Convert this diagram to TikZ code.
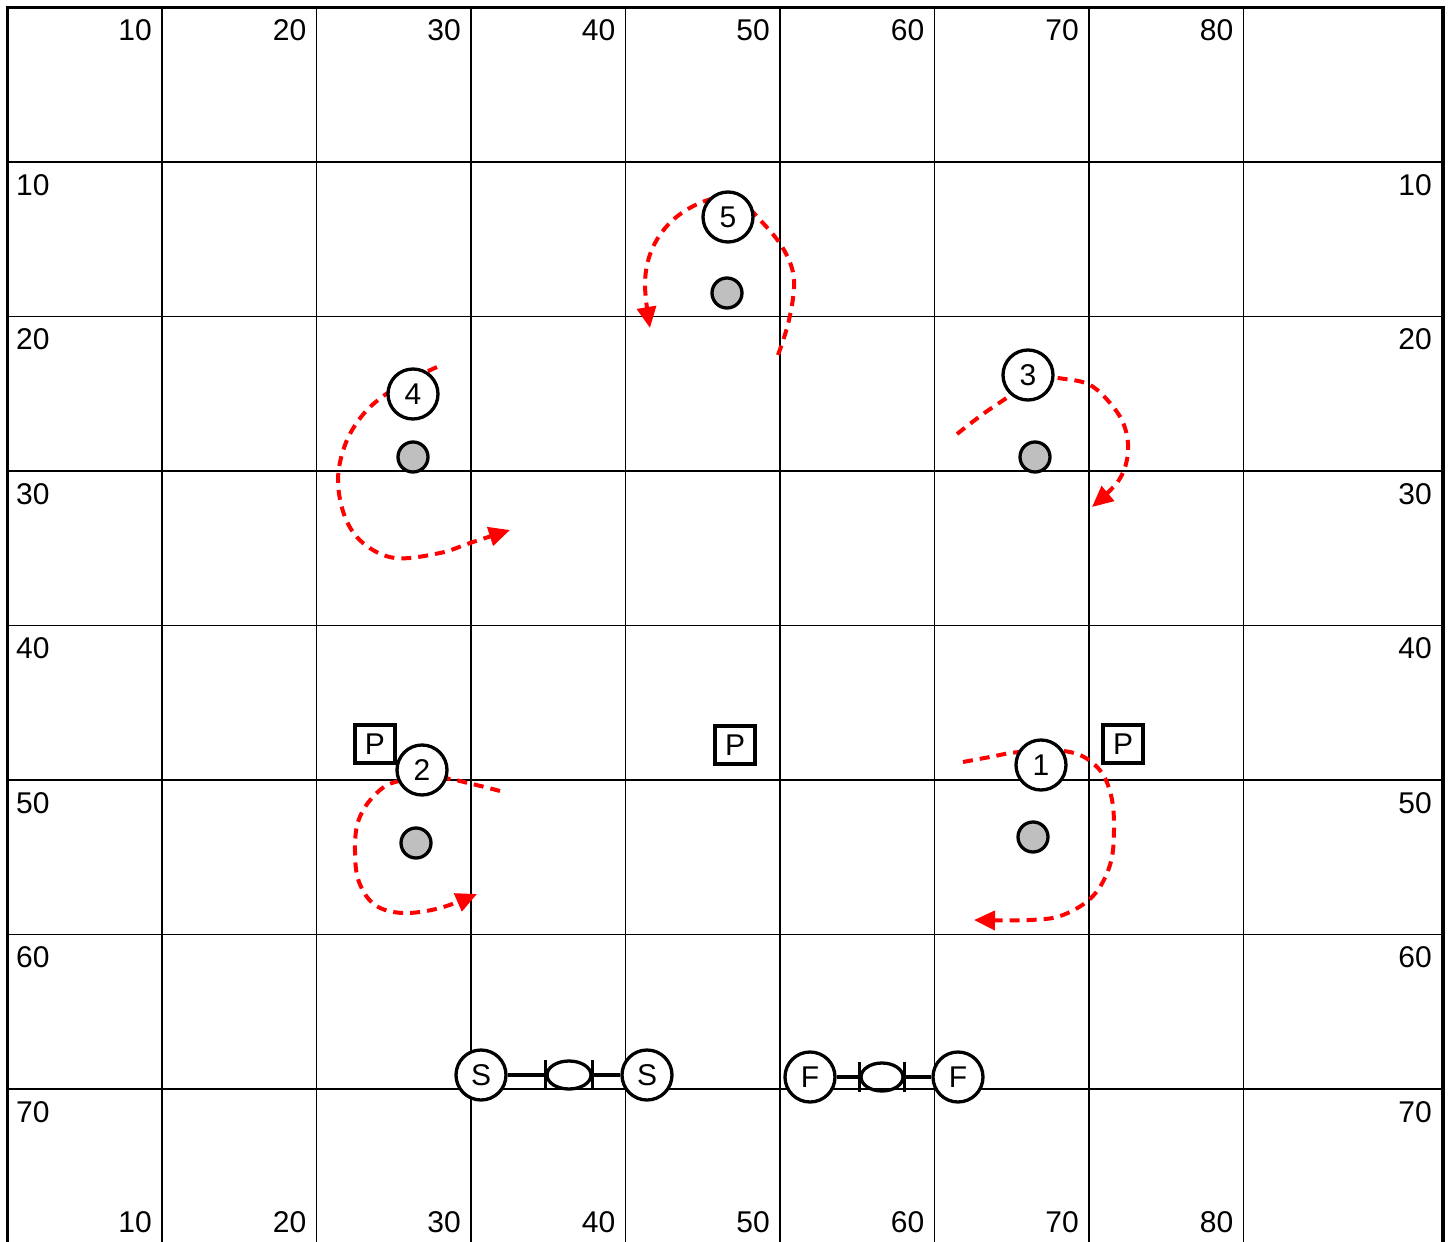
\documentclass[tikz,border=0pt]{standalone}
\usepackage{fontspec}
\setmainfont{Liberation Sans}
\usetikzlibrary{arrows.meta,shapes.geometric}
\begin{document}
\begin{tikzpicture}[x=1pt,y=-1pt,
  lbl/.style={inner sep=0pt,font=\fontsize{30}{36}\selectfont},
  player/.style={circle,draw,line width=3.3pt,fill=white,minimum size=50pt,inner sep=0pt,font=\fontsize{30}{36}\selectfont},
  ball/.style={circle,draw,line width=3.3pt,fill=gray!50,minimum size=30pt,inner sep=0pt},
  pbox/.style={rectangle,draw,line width=3.3pt,fill=white,minimum width=40pt,minimum height=38pt,inner sep=0pt,font=\fontsize{30}{36}\selectfont},
  run/.style={draw=red,line width=4pt,dash pattern=on 10pt off 7pt,-{Triangle[length=21pt,width=19pt,fill=red]}},
  gridl/.style={line width=1.4pt},
  barrel/.style={ellipse,draw,line width=3.3pt,minimum width=44pt,minimum height=28pt,inner sep=0pt},
  link/.style={line width=3.3pt},
]
\useasboundingbox (0,0) rectangle (1452,1242);
% grid
\foreach \i in {1,...,8} \draw[gridl] ({7.5+154.5*\i},7.5) -- ({7.5+154.5*\i},1243.5);
\foreach \j in {1,...,7} \draw[gridl] (7.5,{7.5+154.5*\j}) -- (1443,{7.5+154.5*\j});
\draw[line width=3.3pt] (7.5,7.5) rectangle (1443,1243.5);
% labels
\foreach \i/\t in {1/10,2/20,3/30,4/40,5/50,6/60,7/70,8/80} {
  \node[lbl,anchor=east] (top\i) at ({7.5+154.5*\i-10},30) {\t};
  \node[lbl,anchor=east] (bot\i) at ({7.5+154.5*\i-10},1222) {\t};
}
\foreach \j/\t in {1/10,2/20,3/30,4/40,5/50,6/60,7/70} {
  \node[lbl,anchor=west] (left\j) at (16,{7.5+154.5*\j+23}) {\t};
  \node[lbl,anchor=east] (right\j) at (1432,{7.5+154.5*\j+23}) {\t};
}
% runs
\draw[run] plot[smooth,tension=0.6] coordinates {(778,355) (789,320) (794,280) (784,250) (762,222) (735,198) (705,201) (674,219) (653,247) (645,282) (650,328)};
\draw[run] plot[smooth,tension=0.6] coordinates {(437,367) (410,380) (382,397) (361,417) (345,445) (338,480) (345,517) (363,543) (395,558) (440,553) (470,543) (510,530)};
\draw[run] plot[smooth,tension=0.6] coordinates {(957,434) (983,414) (1008,397) (1035,378) (1065,379) (1090,385) (1110,403) (1124,425) (1128,452) (1119,480) (1092,507)};
\draw[run] plot[smooth,tension=0.6] coordinates {(500,791) (472,784) (440,778) (395,782) (372,798) (358,822) (355,852) (359,882) (375,905) (403,913) (440,908) (477,894)};
\draw[run] plot[smooth,tension=0.6] coordinates {(963,762) (990,757) (1020,752) (1070,752) (1098,768) (1111,795) (1114,830) (1110,865) (1093,896) (1063,915) (1030,920) (974,920)};
% balls
\node[ball] (b5) at (727,293) {};
\node[ball] (b4) at (413,457) {};
\node[ball] (b3) at (1035,457) {};
\node[ball] (b2) at (416,843) {};
\node[ball] (b1) at (1033,837) {};
% boxes
\node[pbox] (p1) at (375,744) {P};
\node[pbox] (p2) at (735,745) {P};
\node[pbox] (p3) at (1123,744) {P};
% players
\node[player] (n5) at (728,217) {5};
\node[player] (n4) at (413,394) {4};
\node[player] (n3) at (1028,375) {3};
\node[player] (n2) at (422,770) {2};
\node[player] (n1) at (1041,765) {1};
% S - S
\node[player] (s1) at (481,1075) {S};
\node[player] (s2) at (647,1075) {S};
\node[barrel] (e1) at (569,1075) {};
\draw[link] (s1) -- (e1.west);
\draw[link] (e1.east) -- (s2);
\draw[link] ([yshift=-15pt]e1.west) -- ([yshift=15pt]e1.west);
\draw[link] ([yshift=-15pt]e1.east) -- ([yshift=15pt]e1.east);
% F - F
\node[player] (f1) at (810,1077) {F};
\node[player] (f2) at (958,1077) {F};
\node[barrel,minimum width=42pt] (e2) at (882,1077) {};
\draw[link] (f1) -- (e2.west);
\draw[link] (e2.east) -- (f2);
\draw[link] ([yshift=-15pt]e2.west) -- ([yshift=15pt]e2.west);
\draw[link] ([yshift=-15pt]e2.east) -- ([yshift=15pt]e2.east);
\end{tikzpicture}
\end{document}
